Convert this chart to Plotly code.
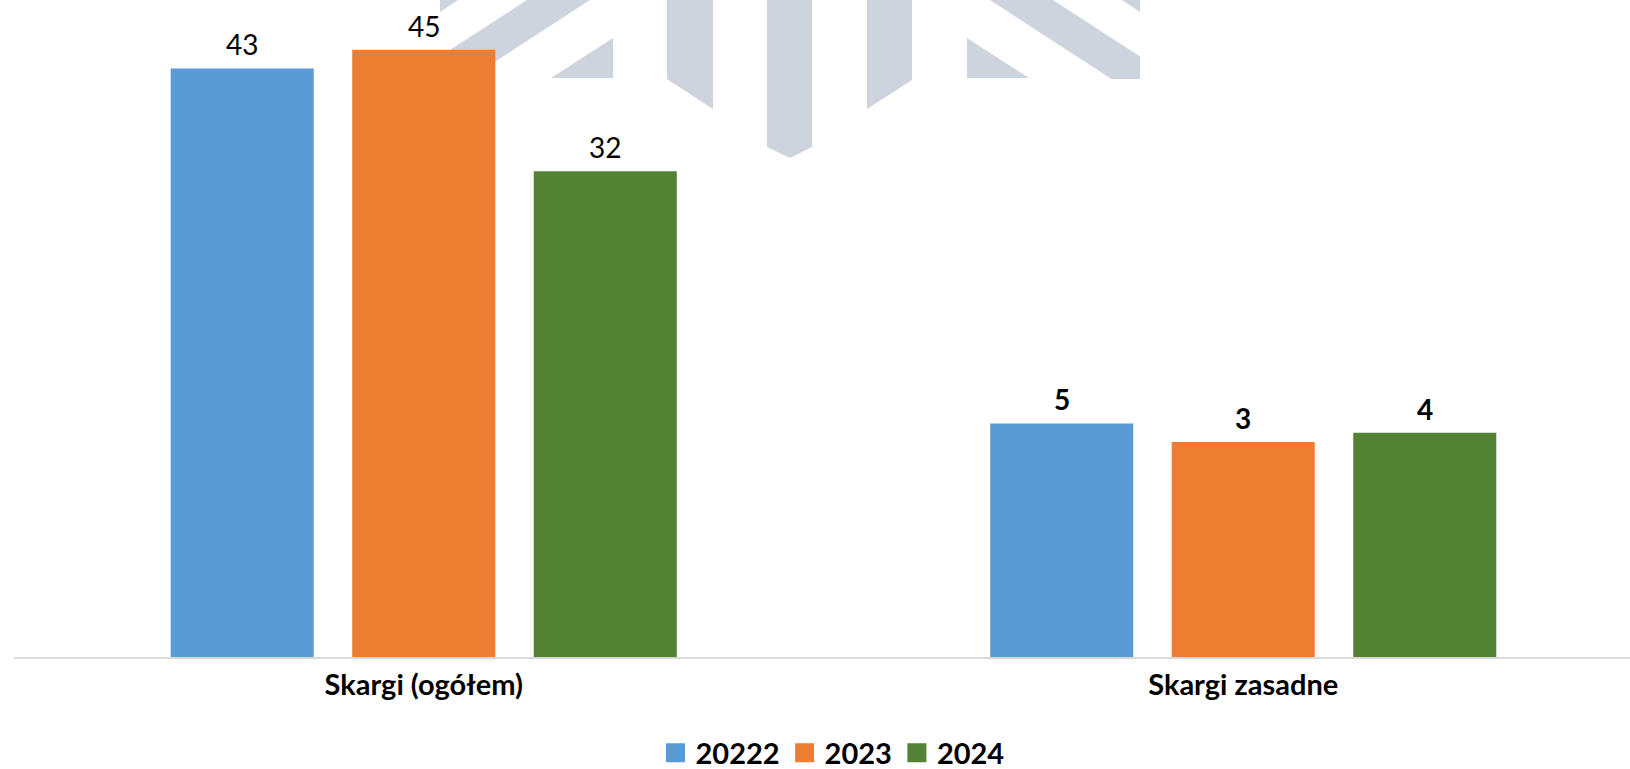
import plotly.graph_objects as go

# ---------------- data ----------------
categories = ["Skargi (ogółem)", "Skargi zasadne"]
series_names = ["20222", "2023", "2024"]
values_2022 = [43, 5]
values_2023 = [45, 3]
values_2024 = [32, 4]
series_values = [values_2022, values_2023, values_2024]
label_bold = [False, True]          # per category: data labels bold?
colors = ["#5B9BD5", "#ED7D31", "#548235"]

AXIS_MIN = -20   # value axis starts at -20, bars grow from the axis
AXIS_MAX = 50

# ---------------- layout geometry ----------------
W, H = 1630, 769
ML, MR, MT, MB = 14, 0, 3, 112
PW = W - ML - MR
PH = H - MT - MB
CAT_PX = 819.5                     # pixel width of one category
X_RANGE = [-0.5, -0.5 + PW / CAT_PX]
BARGAP = 0.3355
BARGROUPGAP = 0.212
SLOT = (1 - BARGAP) / len(series_names)

FONT = "Lato, 'Open Sans', sans-serif"
WM = "#CDD4DE"

fig = go.Figure()

for name, vals, col in zip(series_names, series_values, colors):
    fig.add_trace(go.Bar(
        name=name,
        x=categories,
        y=[v - AXIS_MIN for v in vals],
        base=[AXIS_MIN] * len(vals),
        marker=dict(color=col, line=dict(width=0)),
        showlegend=False,
        hoverinfo="skip",
    ))

# legend proxies with larger square symbols
for name, col in zip(series_names, colors):
    fig.add_trace(go.Scatter(
        name=name, x=[None], y=[None], mode="markers",
        marker=dict(symbol="square", size=16, color=col,
                    line=dict(color=col, width=3)),
        showlegend=True,
    ))

# data labels
annotations = []
for j, vals in enumerate(series_values):
    for i, v in enumerate(vals):
        txt = f"<b>{v}</b>" if label_bold[i] else str(v)
        annotations.append(dict(
            x=i + (j - (len(series_names) - 1) / 2) * SLOT,
            y=v, xref="x", yref="y",
            text=txt, showarrow=False,
            xanchor="center", yanchor="bottom", yshift=5,
            font=dict(family=FONT, size=28, color="black"),
        ))

# watermark (decorative logo) drawn in pixel space -> paper coords
def px(x):
    return (x - ML) / PW

def py(y):
    return 1 - (y - MT) / PH

def poly(points):
    d = "M" + " L".join(f"{px(x):.5f},{py(y):.5f}" for x, y in points) + " Z"
    return dict(type="path", path=d, xref="paper", yref="paper",
                fillcolor=WM, line=dict(width=0), layer="below")

wm_polys = [
    [(440, 0), (458, 0), (440, 12)],
    [(527, 0), (590, 0), (468.5, 79), (405.5, 79)],
    [(551, 78), (613, 38), (613, 78)],
    [(667, 0), (713, 0), (713, 109), (667, 79)],
    [(767, 0), (812, 0), (812, 147), (790, 158), (767, 147)],
    [(867, 0), (912, 0), (912, 80), (867, 109)],
    [(967, 38), (967, 78), (1029, 78)],
    [(990, 0), (1053, 0), (1140, 56.5), (1140, 79), (1111.5, 79)],
    [(1140, 0), (1122, 0), (1140, 12)],
]
shapes = [poly(p) for p in wm_polys]

fig.update_layout(
    width=W, height=H,
    margin=dict(l=ML, r=MR, t=MT, b=MB, pad=0, autoexpand=False),
    paper_bgcolor="white", plot_bgcolor="white",
    barmode="group", bargap=BARGAP, bargroupgap=BARGROUPGAP,
    font=dict(family=FONT, color="black"),
    xaxis=dict(
        type="category", range=X_RANGE,
        showline=True, linecolor="#D9D9D9", linewidth=2,
        showgrid=False, zeroline=False, ticks="",
        tickfont=dict(family=FONT, size=29, color="black", weight="bold"),
        ticklabelstandoff=1, automargin=False,
    ),
    yaxis=dict(range=[AXIS_MIN, AXIS_MAX], visible=False,
               showgrid=False, zeroline=False, automargin=False),
    legend=dict(
        orientation="h", x=px(832.5), xanchor="center",
        y=py(753), yanchor="middle",
        font=dict(family=FONT, size=29, color="black", weight="bold"),
        bgcolor="rgba(0,0,0,0)", itemsizing="trace",
    ),
    annotations=annotations,
    shapes=shapes,
    showlegend=True,
)

fig.write_html(
    "out.html",
    config={"displayModeBar": False},
    post_script="document.body.style.margin='0';document.body.style.padding='0';"
                "document.documentElement.style.overflow='hidden';",
)
